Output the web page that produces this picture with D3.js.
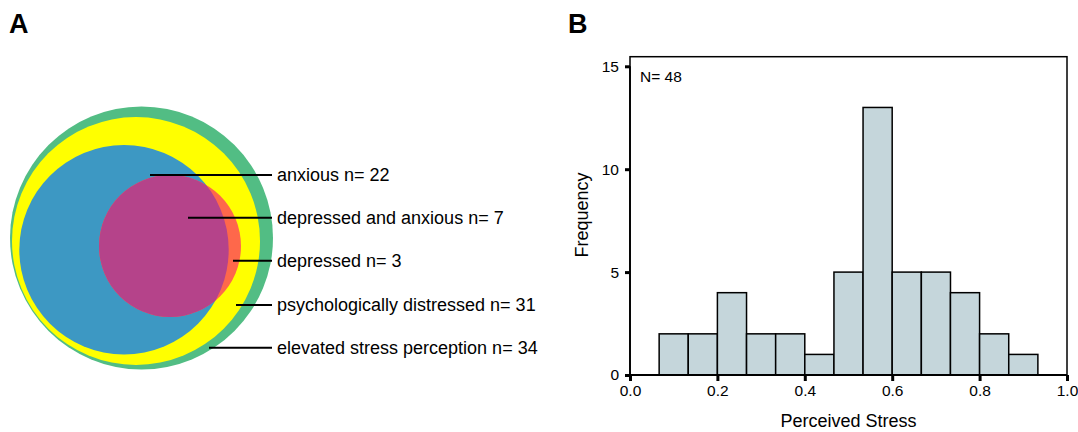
<!DOCTYPE html>
<html>
<head>
<meta charset="utf-8">
<script src="https://cdn.jsdelivr.net/npm/d3@7"></script>
<style>
  html, body { margin: 0; padding: 0; background: #fff; }
  svg { display: block; font-family: "Liberation Sans", Arial, sans-serif; }
</style>
</head>
<body>
<svg id="chart" width="1078" height="432"></svg>
<script>
// ---- Panel A data ----
const groupLabels = ["anxious", "depressed and anxious", "depressed", "psychologically distressed", "elevated stress perception"];
const groupCounts = [22, 7, 3, 31, 34];

// ---- Panel B data ----
const binStarts = [0.0667, 0.1333, 0.2, 0.2667, 0.3333, 0.4, 0.4667, 0.5333, 0.6, 0.6667, 0.7333, 0.8, 0.8667];
const binWidth = 1 / 15;
const frequencies = [2, 2, 4, 2, 2, 1, 5, 13, 5, 5, 4, 2, 1];
const xTicks = [0, 0.2, 0.4, 0.6, 0.8, 1.0];
const yTicks = [0, 5, 10, 15];
const totalN = 48;

const svg = d3.select("#chart");

// Panel letters
svg.append("text").attr("x", 9).attr("y", 33).attr("font-size", 27).attr("font-weight", "bold").text("A");
svg.append("text").attr("x", 568).attr("y", 33).attr("font-size", 27).attr("font-weight", "bold").text("B");

// ---- Panel A: nested circles ----
const gA = svg.append("g");
const circles = {
  stress:  {cx: 141.5, cy: 238,   r: 131.5, color: "#52BD84"},
  distress:{cx: 136,   cy: 241,   r: 124,   color: "#FFFF00"},
  anxious: {cx: 124,   cy: 249.7, r: 104.7, color: "#3D98C3"},
  depress: {cx: 170,   cy: 246,   r: 71,    color: "#FE684B"}
};
const defs = svg.append("defs");
defs.append("clipPath").attr("id", "clipAnx")
  .append("circle").attr("cx", circles.anxious.cx).attr("cy", circles.anxious.cy).attr("r", circles.anxious.r);

["stress", "distress", "anxious", "depress"].forEach(k => {
  const c = circles[k];
  gA.append("circle").attr("cx", c.cx).attr("cy", c.cy).attr("r", c.r).attr("fill", c.color);
});
gA.append("circle")
  .attr("cx", circles.depress.cx).attr("cy", circles.depress.cy).attr("r", circles.depress.r)
  .attr("fill", "#B5438A").attr("clip-path", "url(#clipAnx)");

// leader lines and labels
const leaderY = [175, 217.7, 260.7, 305, 347.7];
const leaderX0 = [150, 188, 233, 236, 209];
const leaderX1 = 272;
groupLabels.forEach((lab, i) => {
  gA.append("line")
    .attr("x1", leaderX0[i]).attr("x2", leaderX1)
    .attr("y1", leaderY[i]).attr("y2", leaderY[i])
    .attr("stroke", "#000").attr("stroke-width", 2);
  gA.append("text")
    .attr("x", 277).attr("y", leaderY[i]).attr("dy", "0.35em")
    .attr("font-size", 18).attr("fill", "#000")
    .text(`${lab} n= ${groupCounts[i]}`);
});

// ---- Panel B: histogram ----
const pLeft = 630, pRight = 1067, pBottom = 375, pTop = 56.7;
const x = d3.scaleLinear().domain([0, 1]).range([pLeft, pRight]);
const y = d3.scaleLinear().domain([0, 15]).range([pBottom, 66.3]);

const gB = svg.append("g");
// frame
gB.append("rect").attr("x", pLeft).attr("y", pTop).attr("width", pRight - pLeft).attr("height", pBottom - pTop)
  .attr("fill", "none").attr("stroke", "#000").attr("stroke-width", 1.5);

gB.selectAll("rect.bar").data(frequencies).join("rect")
  .attr("class", "bar")
  .attr("x", (d, i) => x(binStarts[i]))
  .attr("width", (d, i) => x(binStarts[i] + binWidth) - x(binStarts[i]))
  .attr("y", d => y(d))
  .attr("height", d => y(0) - y(d))
  .attr("fill", "#C5D6DB").attr("stroke", "#000").attr("stroke-width", 1.5);

// axes
const xAxis = d3.axisBottom(x).tickValues(xTicks).tickFormat(d3.format(".1f")).tickSize(6).tickPadding(4);
const yAxis = d3.axisLeft(y).tickValues(yTicks).tickFormat(d3.format("d")).tickSize(5).tickPadding(6);

const gx = gB.append("g").attr("transform", `translate(0,${pBottom})`).call(xAxis);
const gy = gB.append("g").attr("transform", `translate(${pLeft},0)`).call(yAxis);
[gx, gy].forEach(g => {
  g.select(".domain").attr("stroke", "#000").attr("stroke-width", 1.8);
  g.selectAll(".tick line").attr("stroke", "#000").attr("stroke-width", 3);
  g.selectAll(".tick text").attr("font-size", 15.5).attr("fill", "#000")
    .attr("font-family", "'Liberation Sans', Arial, sans-serif");
});
gy.select(".domain").attr("d", `M0,${y(0)}V${y(15)}`);
gx.select(".domain").attr("d", `M${x(0)},0H${x(1)}`);

// titles
gB.append("text").attr("x", (pLeft + pRight) / 2).attr("y", 427)
  .attr("text-anchor", "middle").attr("font-size", 18).text("Perceived Stress");
gB.append("text").attr("transform", `translate(588,215) rotate(-90)`)
  .attr("text-anchor", "middle").attr("font-size", 18).text("Frequency");
gB.append("text").attr("x", 640).attr("y", 82).attr("font-size", 15.5).text(`N= ${totalN}`);
</script>
</body>
</html>
